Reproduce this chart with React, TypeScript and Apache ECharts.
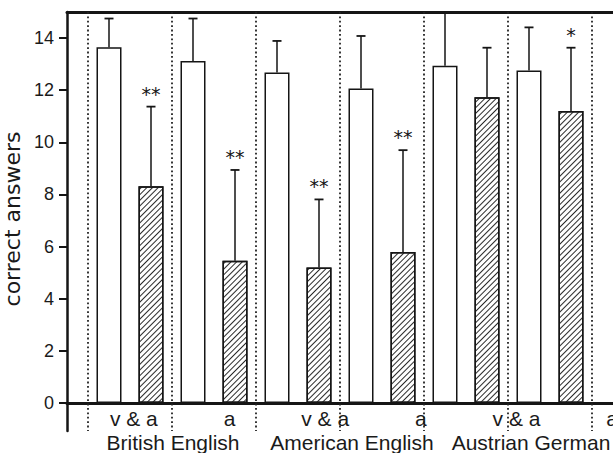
import React, { useEffect, useRef } from "react";
import * as echarts from "echarts";

const conditions = ["v & a", "a", "v & a", "a", "v & a", "a"];
const languages = ["British English", "American English", "Austrian German"];
const whiteMeans = [13.65, 13.12, 12.68, 12.07, 12.94, 12.76];
const whiteUpper = [14.75, 14.75, 13.89, 14.08, 14.97, 14.41];
const hatchedMeans = [8.32, 5.46, 5.2, 5.79, 11.73, 11.2];
const hatchedUpper = [11.37, 8.94, 7.81, 9.7, 13.63, 13.63];
const hatchedStars = ["**", "**", "**", "**", "", "*"];
const yTicks = [0, 2, 4, 6, 8, 10, 12, 14];

const FONT = "'Liberation Sans', Arial, Helvetica, sans-serif";
const INK = "#151515";

export default function App() {
  const ref = useRef<HTMLDivElement>(null);
  useEffect(() => {
    if (!ref.current) return;
    const chart = echarts.init(ref.current, undefined, { renderer: "svg" });

    const whiteData = whiteMeans.map((v, i) => [2 * i, v]);
    const hatchedData = hatchedMeans.map((v, i) => [2 * i + 1, v]);
    const errData: number[][] = [];
    const errStars: string[] = [];
    whiteMeans.forEach((v, i) => {
      errData.push([2 * i, v, whiteUpper[i]]);
      errStars.push("");
      errData.push([2 * i + 1, hatchedMeans[i], hatchedUpper[i]]);
      errStars.push(hatchedStars[i]);
    });
    const separators = [];
    for (let k = 0; k <= conditions.length; k++) separators.push([2 * k - 0.5, 0]);

    const hiddenAxis = { show: false };

    chart.setOption({
      animation: false,
      backgroundColor: "#fff",
      grid: [
        { left: 67, right: 0, top: 12, bottom: 50, outerBoundsMode: "none" },
        { left: 86, width: 574, top: 12, bottom: 50, outerBoundsMode: "none" },
        { left: 83.5, width: 537, top: 12, bottom: 50, outerBoundsMode: "none" },
        { left: 67, width: 546, top: 403, height: 28, outerBoundsMode: "none" },
      ],
      xAxis: [
        {
          type: "value", gridIndex: 0, min: -1, max: 12, position: "bottom",
          axisLine: { show: true, onZero: true, lineStyle: { color: INK, width: 3 } },
          axisTick: { show: false }, axisLabel: { show: false }, splitLine: { show: false },
        },
        {
          type: "value", gridIndex: 0, min: -1, max: 12, position: "top",
          axisLine: { show: true, onZero: false, lineStyle: { color: INK, width: 3 } },
          axisTick: { show: false }, axisLabel: { show: false }, splitLine: { show: false },
        },
        {
          type: "category", gridIndex: 1, data: conditions,
          axisLine: { show: false }, axisTick: { show: false }, splitLine: { show: false },
          axisLabel: { interval: 0, margin: 5, fontSize: 21, fontFamily: FONT, color: "#1a1a1a" },
        },
        {
          type: "category", gridIndex: 2, data: languages,
          axisLine: { show: false }, axisTick: { show: false }, splitLine: { show: false },
          axisLabel: { interval: 0, margin: 29, fontSize: 21, fontFamily: FONT, color: "#1a1a1a" },
        },
        { type: "value", gridIndex: 3, ...hiddenAxis },
      ],
      yAxis: [
        {
          type: "value", gridIndex: 0, min: 0, max: 15,
          name: "correct answers", nameLocation: "middle", nameGap: 35,
          nameTextStyle: { fontSize: 22, fontFamily: "'DejaVu Sans', sans-serif", color: "#1a1a1a", padding: [0, 23, 0, 0] },
          axisLine: { show: true, onZero: false, lineStyle: { color: INK, width: 2.5 } },
          axisTick: { show: true, length: 8, customValues: yTicks, lineStyle: { color: INK, width: 2 } },
          axisLabel: { customValues: yTicks, margin: 13, fontSize: 18, fontFamily: FONT, color: "#1a1a1a" },
          splitLine: { show: false },
        },
        { type: "value", gridIndex: 1, ...hiddenAxis },
        { type: "value", gridIndex: 2, ...hiddenAxis },
        {
          type: "value", gridIndex: 3,
          axisLine: { show: true, onZero: false, lineStyle: { color: INK, width: 2.5 } },
          axisTick: { show: false }, axisLabel: { show: false }, splitLine: { show: false },
        },
      ],
      series: [
        {
          type: "custom", xAxisIndex: 0, yAxisIndex: 0, z: 1, data: separators,
          renderItem: (params: any, api: any) => {
            const x = api.value(0);
            const top = api.coord([x, 15]);
            const bot = api.coord([x, 0]);
            return {
              type: "line",
              shape: { x1: top[0], y1: top[1], x2: bot[0], y2: bot[1] + 28 },
              style: { stroke: "#222", lineWidth: 1.8, lineDash: [1.8, 2.6] },
            };
          },
        },
        {
          type: "bar", xAxisIndex: 0, yAxisIndex: 0, data: whiteData, barWidth: 25, barGap: "-100%", z: 2,
          itemStyle: { color: "#fff", borderColor: INK, borderWidth: 1.5 },
        },
        {
          type: "bar", xAxisIndex: 0, yAxisIndex: 0, data: hatchedData, barWidth: 25, barGap: "-100%", z: 2,
          itemStyle: {
            color: "#fff", borderColor: INK, borderWidth: 1.5,
            decal: {
              symbol: "rect", symbolSize: 1, color: "#2a2a2a", backgroundColor: "rgba(0,0,0,0)",
              dashArrayX: [1, 0], dashArrayY: [1, 2.3], rotation: -Math.PI / 4,
            },
          },
        },
        {
          type: "custom", xAxisIndex: 0, yAxisIndex: 0, z: 3, data: errData,
          renderItem: (params: any, api: any) => {
            const x = api.value(0);
            const p0 = api.coord([x, api.value(1)]);
            const p1 = api.coord([x, api.value(2)]);
            const star = errStars[params.dataIndex];
            const children: any[] = [
              { type: "line", shape: { x1: p0[0], y1: p0[1], x2: p1[0], y2: p1[1] }, style: { stroke: INK, lineWidth: 1.5 } },
              { type: "line", shape: { x1: p1[0] - 4.5, y1: p1[1], x2: p1[0] + 4.5, y2: p1[1] }, style: { stroke: INK, lineWidth: 1.8 } },
            ];
            if (star) {
              children.push({
                type: "text", x: p1[0], y: p1[1] - 13,
                style: { text: star, fontSize: 19, fontFamily: "'DejaVu Sans', sans-serif", fill: INK, align: "center", verticalAlign: "middle" },
              });
            }
            return { type: "group", children };
          },
        },
      ],
    });
    return () => chart.dispose();
  }, []);
  return <div ref={ref} style={{ position: "fixed", left: 0, top: 0, width: 613, height: 453 }} />;
}
